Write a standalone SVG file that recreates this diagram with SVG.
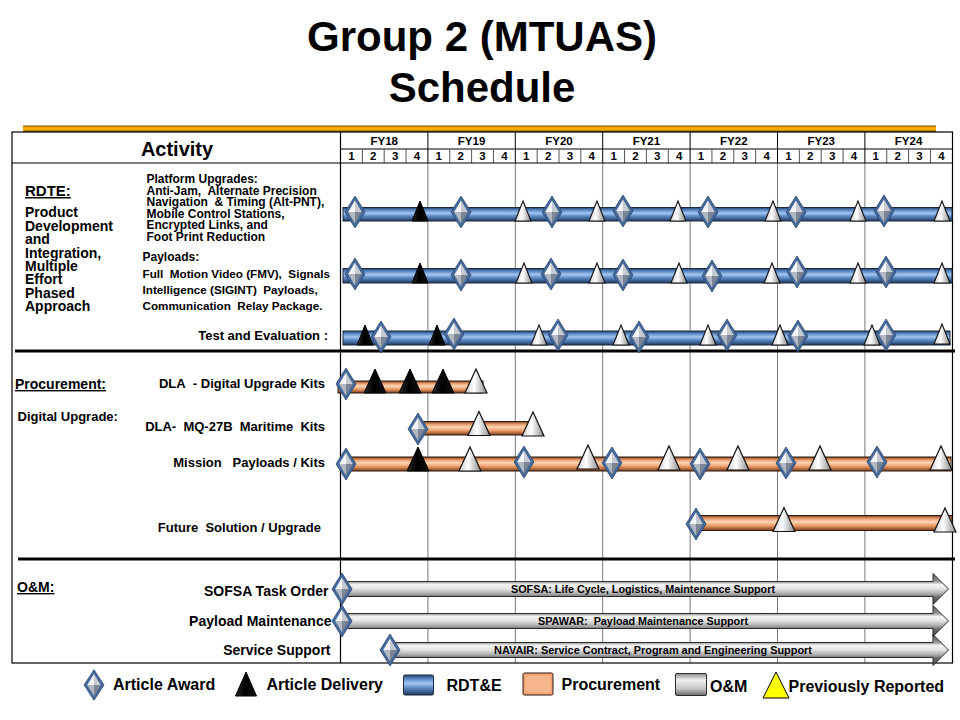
<svg xmlns="http://www.w3.org/2000/svg" xmlns:xlink="http://www.w3.org/1999/xlink" width="960" height="720" viewBox="0 0 960 720">
  <style>
    text { font-family: "Liberation Sans", Arial, sans-serif; font-weight: bold; fill: #000; }
    .title { font-size: 42px; text-anchor: middle; }
    .hdr { font-size: 11.5px; text-anchor: middle; }
    .lbl { font-size: 13px; text-anchor: end; }
    .om { font-size: 14px; text-anchor: end; }
    .sec { text-decoration: underline; }
    .body { font-size: 12px; }
    .arrowtxt { font-size: 10.8px; text-anchor: middle; }
    .leg { font-size: 16px; }
    .grid { stroke: #7a7a7a; stroke-width: 1; }
    .frame { stroke: #000; stroke-width: 1.2; fill: none; }
    .sep { stroke: #000; stroke-width: 3; }
    .rdte { fill: url(#gBlue); stroke: #1c2a3c; stroke-width: 1; }
    .proc { fill: url(#gOrange); stroke: #2a1a10; stroke-width: 1; }
    .oam { fill: url(#gGray); stroke: #2b2b2b; stroke-width: 1; }
  </style>
  <defs>
    <linearGradient id="gGold" x1="0" y1="0" x2="0" y2="1">
      <stop offset="0" stop-color="#7a4d00"/>
      <stop offset="0.3" stop-color="#f3a30c"/>
      <stop offset="0.6" stop-color="#ffb400"/>
      <stop offset="1" stop-color="#6e4500"/>
    </linearGradient>
    <linearGradient id="gBlue" x1="0" y1="0" x2="0" y2="1">
      <stop offset="0" stop-color="#23416a"/>
      <stop offset="0.2" stop-color="#5d8bc8"/>
      <stop offset="0.42" stop-color="#a4c6f0"/>
      <stop offset="0.65" stop-color="#5a88c4"/>
      <stop offset="1" stop-color="#1f3a60"/>
    </linearGradient>
    <linearGradient id="gOrange" x1="0" y1="0" x2="0" y2="1">
      <stop offset="0" stop-color="#7e4220"/>
      <stop offset="0.22" stop-color="#eda070"/>
      <stop offset="0.42" stop-color="#fcd6b8"/>
      <stop offset="0.68" stop-color="#ec9a64"/>
      <stop offset="1" stop-color="#7a3d1c"/>
    </linearGradient>
    <linearGradient id="gGray" x1="0" y1="0" x2="0" y2="1">
      <stop offset="0" stop-color="#505050"/>
      <stop offset="0.26" stop-color="#9a9a9a"/>
      <stop offset="0.36" stop-color="#f6f6f6"/>
      <stop offset="0.5" stop-color="#e2e2e2"/>
      <stop offset="0.66" stop-color="#a8a8a8"/>
      <stop offset="0.76" stop-color="#6c6c6c"/>
      <stop offset="1" stop-color="#404040"/>
    </linearGradient>
    <linearGradient id="gGrayBox" x1="0" y1="0" x2="0" y2="1">
      <stop offset="0" stop-color="#8a8a8a"/>
      <stop offset="0.3" stop-color="#f2f2f2"/>
      <stop offset="0.7" stop-color="#c4c4c4"/>
      <stop offset="1" stop-color="#6a6a6a"/>
    </linearGradient>
    <linearGradient id="gTriW" x1="0" y1="0" x2="1" y2="0">
      <stop offset="0" stop-color="#cfcfcf"/>
      <stop offset="0.42" stop-color="#ffffff"/>
      <stop offset="1" stop-color="#8c8c8c"/>
    </linearGradient>
    <linearGradient id="gTriB" x1="0" y1="0" x2="1" y2="0">
      <stop offset="0" stop-color="#2a2a2a"/>
      <stop offset="0.45" stop-color="#000"/>
      <stop offset="1" stop-color="#111"/>
    </linearGradient>

    <!-- milestone: article award (diamond, centred on origin) -->
    <g id="dia">
      <polygon points="0,-16 10,0 0,16 -10,0" fill="#46699a" stroke="#2b4870" stroke-width="0.8"/>
      <polygon points="0,-11.5 0,0 -6.8,0" fill="#f4f5f7"/>
      <polygon points="0,-11.5 6.8,0 0,0" fill="#c6cbd2"/>
      <polygon points="-6.8,0 0,0 0,11.5" fill="#b3b9c2"/>
      <polygon points="0,0 6.8,0 0,11.5" fill="#7b8593"/>
    </g>
    <!-- delivery triangles, base on origin -->
    <polygon id="twS" points="0,-20 8,0 -8,0" fill="url(#gTriW)" stroke="#111" stroke-width="1.1"/>
    <polygon id="tbS" points="0,-20 8,0 -8,0" fill="url(#gTriB)" stroke="#000" stroke-width="1"/>
    <polygon id="twL" points="0,-24 11,0 -11,0" fill="url(#gTriW)" stroke="#111" stroke-width="1.2"/>
    <polygon id="tbL" points="0,-24 11,0 -11,0" fill="url(#gTriB)" stroke="#000" stroke-width="1"/>
  </defs>

  <rect width="960" height="720" fill="#fff"/>

  <!-- title -->
  <g id="title">
    <text class="title" x="482" y="51">Group 2 (MTUAS)</text>
    <text class="title" x="482" y="102">Schedule</text>
  </g>

  <!-- gold rule above the table -->
  <rect x="23" y="125.5" width="913" height="6.5" fill="url(#gGold)"/>

  <!-- table frame and grid -->
  <g id="grid">
    <line class="grid" x1="427.9" y1="163" x2="427.9" y2="663"/>
    <line class="grid" x1="515.3" y1="163" x2="515.3" y2="663"/>
    <line class="grid" x1="602.7" y1="163" x2="602.7" y2="663"/>
    <line class="grid" x1="690.1" y1="163" x2="690.1" y2="663"/>
    <line class="grid" x1="777.5" y1="163" x2="777.5" y2="663"/>
    <line class="grid" x1="864.9" y1="163" x2="864.9" y2="663"/>
    <g stroke="#000" stroke-width="1">
      <line x1="427.9" y1="132" x2="427.9" y2="163"/>
      <line x1="515.3" y1="132" x2="515.3" y2="163"/>
      <line x1="602.7" y1="132" x2="602.7" y2="163"/>
      <line x1="690.1" y1="132" x2="690.1" y2="163"/>
      <line x1="777.5" y1="132" x2="777.5" y2="163"/>
      <line x1="864.9" y1="132" x2="864.9" y2="163"/>
      <line x1="340.5" y1="149" x2="952.5" y2="149"/>
    </g>
    <g stroke="#555" stroke-width="1">
      <line x1="362.35" y1="149" x2="362.35" y2="163"/><line x1="384.2" y1="149" x2="384.2" y2="163"/><line x1="406.05" y1="149" x2="406.05" y2="163"/>
      <line x1="449.75" y1="149" x2="449.75" y2="163"/><line x1="471.6" y1="149" x2="471.6" y2="163"/><line x1="493.45" y1="149" x2="493.45" y2="163"/>
      <line x1="537.15" y1="149" x2="537.15" y2="163"/><line x1="559" y1="149" x2="559" y2="163"/><line x1="580.85" y1="149" x2="580.85" y2="163"/>
      <line x1="624.55" y1="149" x2="624.55" y2="163"/><line x1="646.4" y1="149" x2="646.4" y2="163"/><line x1="668.25" y1="149" x2="668.25" y2="163"/>
      <line x1="711.95" y1="149" x2="711.95" y2="163"/><line x1="733.8" y1="149" x2="733.8" y2="163"/><line x1="755.65" y1="149" x2="755.65" y2="163"/>
      <line x1="799.35" y1="149" x2="799.35" y2="163"/><line x1="821.2" y1="149" x2="821.2" y2="163"/><line x1="843.05" y1="149" x2="843.05" y2="163"/>
      <line x1="886.75" y1="149" x2="886.75" y2="163"/><line x1="908.6" y1="149" x2="908.6" y2="163"/><line x1="930.45" y1="149" x2="930.45" y2="163"/>
    </g>
    <rect class="frame" x="12" y="132" width="940.5" height="531"/>
    <line stroke="#000" stroke-width="1.2" x1="12" y1="163" x2="952.5" y2="163"/>
    <line stroke="#000" stroke-width="1.2" x1="340.5" y1="132" x2="340.5" y2="663"/>
    <line class="sep" x1="15" y1="351" x2="955" y2="351"/>
    <line class="sep" x1="18" y1="559" x2="955" y2="559"/>
  </g>

  <!-- header labels -->
  <g id="header">
    <text x="177" y="156" style="font-size:20px;text-anchor:middle">Activity</text>
    <text class="hdr" x="384.2" y="145">FY18</text>
    <text class="hdr" x="471.6" y="145">FY19</text>
    <text class="hdr" x="559" y="145">FY20</text>
    <text class="hdr" x="646.4" y="145">FY21</text>
    <text class="hdr" x="733.8" y="145">FY22</text>
    <text class="hdr" x="821.2" y="145">FY23</text>
    <text class="hdr" x="908.6" y="145">FY24</text>
    <g class="quarters">
      <text class="hdr" x="351.4" y="159.5">1</text><text class="hdr" x="373.3" y="159.5">2</text><text class="hdr" x="395.1" y="159.5">3</text><text class="hdr" x="417" y="159.5">4</text>
      <text class="hdr" x="438.8" y="159.5">1</text><text class="hdr" x="460.7" y="159.5">2</text><text class="hdr" x="482.5" y="159.5">3</text><text class="hdr" x="504.4" y="159.5">4</text>
      <text class="hdr" x="526.2" y="159.5">1</text><text class="hdr" x="548.1" y="159.5">2</text><text class="hdr" x="569.9" y="159.5">3</text><text class="hdr" x="591.8" y="159.5">4</text>
      <text class="hdr" x="613.6" y="159.5">1</text><text class="hdr" x="635.5" y="159.5">2</text><text class="hdr" x="657.3" y="159.5">3</text><text class="hdr" x="679.2" y="159.5">4</text>
      <text class="hdr" x="701" y="159.5">1</text><text class="hdr" x="722.9" y="159.5">2</text><text class="hdr" x="744.7" y="159.5">3</text><text class="hdr" x="766.6" y="159.5">4</text>
      <text class="hdr" x="788.4" y="159.5">1</text><text class="hdr" x="810.3" y="159.5">2</text><text class="hdr" x="832.1" y="159.5">3</text><text class="hdr" x="854" y="159.5">4</text>
      <text class="hdr" x="875.8" y="159.5">1</text><text class="hdr" x="897.7" y="159.5">2</text><text class="hdr" x="919.5" y="159.5">3</text><text class="hdr" x="941.4" y="159.5">4</text>
    </g>
  </g>

  <!-- RDT&E section -->
  <g id="rdte-labels">
    <text class="sec" x="25" y="196" style="font-size:15px">RDTE:</text>
    <text x="25" y="217" style="font-size:14px">Product</text>
    <text x="25" y="230.5" style="font-size:14px">Development</text>
    <text x="25" y="244" style="font-size:14px">and</text>
    <text x="25" y="257.5" style="font-size:14px">Integration,</text>
    <text x="25" y="271" style="font-size:14px">Multiple</text>
    <text x="25" y="284" style="font-size:14px">Effort</text>
    <text x="25" y="297.5" style="font-size:14px">Phased</text>
    <text x="25" y="311" style="font-size:14px">Approach</text>
  </g>
  <g id="platform-upgrades">
    <text class="body" x="146.5" y="183">Platform Upgrades:</text>
    <text class="body" x="146.5" y="194.5">Anti-Jam,&#160; Alternate Precision</text>
    <text class="body" x="146.5" y="206">Navigation&#160; &amp; Timing (Alt-PNT),</text>
    <text class="body" x="146.5" y="217.5">Mobile Control Stations,</text>
    <text class="body" x="146.5" y="229">Encrypted Links, and</text>
    <text class="body" x="146.5" y="240.5">Foot Print Reduction</text>
    <rect class="rdte" x="343" y="207.5" width="609" height="13.5"/>
    <use href="#tbS" x="420" y="221"/>
    <use href="#twS" x="523" y="221"/>
    <use href="#twS" x="597" y="221"/>
    <use href="#twS" x="678" y="221"/>
    <use href="#twS" x="773" y="221"/>
    <use href="#twS" x="858" y="221"/>
    <use href="#twS" x="942" y="221"/>
    <use href="#dia" x="355" y="212"/>
    <use href="#dia" x="461" y="212"/>
    <use href="#dia" x="552" y="212"/>
    <use href="#dia" x="623" y="211"/>
    <use href="#dia" x="708" y="212"/>
    <use href="#dia" x="796" y="212"/>
    <use href="#dia" x="884" y="211"/>
  </g>
  <g id="payloads">
    <text class="body" x="142.5" y="261">Payloads:</text>
    <text class="body" x="142.5" y="277.5" style="font-size:11.7px">Full&#160; Motion Video (FMV),&#160; Signals</text>
    <text class="body" x="142.5" y="293.5" style="font-size:11.7px">Intelligence (SIGINT)&#160; Payloads,</text>
    <text class="body" x="142.5" y="310" style="font-size:11.7px">Communication&#160; Relay Package.</text>
    <rect class="rdte" x="343" y="268.5" width="609" height="14.5"/>
    <use href="#tbS" x="420" y="283"/>
    <use href="#twS" x="524" y="283"/>
    <use href="#twS" x="597" y="283"/>
    <use href="#twS" x="679" y="283"/>
    <use href="#twS" x="772" y="283"/>
    <use href="#twS" x="858" y="283"/>
    <use href="#twS" x="942" y="283"/>
    <use href="#dia" x="355" y="274"/>
    <use href="#dia" x="461" y="275"/>
    <use href="#dia" x="551" y="274"/>
    <use href="#dia" x="623" y="275"/>
    <use href="#dia" x="712" y="276"/>
    <use href="#dia" x="797" y="272"/>
    <use href="#dia" x="886" y="272"/>
  </g>
  <g id="test-evaluation">
    <text class="lbl" x="328" y="340">Test and Evaluation :</text>
    <rect class="rdte" x="343" y="331" width="607" height="14"/>
    <use href="#tbS" x="365" y="345"/>
    <use href="#tbS" x="437" y="345"/>
    <use href="#twS" x="539" y="345"/>
    <use href="#twS" x="621" y="345"/>
    <use href="#twS" x="708" y="345"/>
    <use href="#twS" x="780" y="345"/>
    <use href="#twS" x="872" y="345"/>
    <use href="#twS" x="942" y="344"/>
    <use href="#dia" x="381" y="337"/>
    <use href="#dia" x="454" y="334"/>
    <use href="#dia" x="558" y="335"/>
    <use href="#dia" x="639" y="337"/>
    <use href="#dia" x="727" y="335"/>
    <use href="#dia" x="798" y="336"/>
    <use href="#dia" x="886" y="335"/>
  </g>

  <!-- Procurement section -->
  <g id="procurement-labels">
    <text class="sec" x="15" y="389" style="font-size:14px">Procurement:</text>
    <text x="17.5" y="421" style="font-size:13px">Digital Upgrade:</text>
  </g>
  <g id="dla-digital-kits">
    <text class="lbl" x="325" y="388">DLA&#160; - Digital Upgrade Kits</text>
    <rect class="proc" x="338" y="381" width="145" height="12"/>
    <use href="#tbL" x="375" y="393"/>
    <use href="#tbL" x="410" y="393"/>
    <use href="#tbL" x="443" y="393"/>
    <use href="#twL" x="476" y="393"/>
    <use href="#dia" x="346" y="384"/>
  </g>
  <g id="dla-maritime-kits">
    <text class="lbl" x="325" y="431">DLA-&#160; MQ-27B&#160; Maritime&#160; Kits</text>
    <rect class="proc" x="418" y="421.5" width="115" height="13.5"/>
    <use href="#twL" x="479" y="435.5"/>
    <use href="#twL" x="533" y="436"/>
    <use href="#dia" x="418" y="429"/>
  </g>
  <g id="mission-payloads">
    <text class="lbl" x="325" y="467">Mission&#160;&#160; Payloads / Kits</text>
    <rect class="proc" x="343" y="457" width="608" height="14"/>
    <use href="#tbL" x="418" y="471"/>
    <use href="#twL" x="470" y="471"/>
    <use href="#twL" x="588" y="469"/>
    <use href="#twL" x="669" y="470"/>
    <use href="#twL" x="738" y="470"/>
    <use href="#twL" x="820" y="470"/>
    <use href="#twL" x="941" y="470"/>
    <use href="#dia" x="346" y="464"/>
    <use href="#dia" x="524" y="462"/>
    <use href="#dia" x="612" y="463"/>
    <use href="#dia" x="700" y="464"/>
    <use href="#dia" x="786" y="463"/>
    <use href="#dia" x="877" y="462"/>
  </g>
  <g id="future-solution">
    <text class="lbl" x="321" y="532">Future&#160; Solution / Upgrade</text>
    <rect class="proc" x="697" y="515.5" width="255" height="15"/>
    <use href="#twL" x="784" y="531.5"/>
    <use href="#twL" x="945" y="532"/>
    <use href="#dia" x="696" y="524"/>
  </g>

  <!-- O&M section -->
  <g id="om-labels">
    <text class="sec" x="17" y="592" style="font-size:14px">O&amp;M:</text>
  </g>
  <g id="sofsa">
    <text class="om" x="328.5" y="596">SOFSA Task Order</text>
    <path class="oam" d="M343,581.5 H933 V573.5 L948.5,589 L933,604.5 V596.5 H343 Z"/>
    <text class="arrowtxt" x="643" y="593" textLength="264" lengthAdjust="spacingAndGlyphs">SOFSA: Life Cycle, Logistics, Maintenance Support</text>
    <use href="#dia" x="342" y="589"/>
  </g>
  <g id="payload-maintenance">
    <text class="om" x="331.5" y="625.5">Payload Maintenance</text>
    <path class="oam" d="M343,613.5 H933 V605.5 L948.5,621 L933,636.5 V628.5 H343 Z"/>
    <text class="arrowtxt" x="643" y="625" textLength="210" lengthAdjust="spacingAndGlyphs">SPAWAR:&#160; Payload Maintenance Support</text>
    <use href="#dia" x="342" y="621"/>
  </g>
  <g id="service-support">
    <text class="om" x="330.5" y="655">Service Support</text>
    <path class="oam" d="M390,642.5 H933 V634.5 L948.5,650 L933,665.5 V657.5 H390 Z"/>
    <text class="arrowtxt" x="653" y="654" textLength="318" lengthAdjust="spacingAndGlyphs">NAVAIR: Service Contract, Program and Engineering Support</text>
    <use href="#dia" x="390" y="650"/>
  </g>

  <!-- legend -->
  <g id="legend">
    <use href="#dia" transform="translate(94,685) scale(1.0,0.95)"/>
    <text class="leg" x="113" y="690">Article Award</text>
    <polygon points="246,672 256.5,696 235.5,696" fill="url(#gTriB)" stroke="#000" stroke-width="1"/>
    <text class="leg" x="266.5" y="690">Article Delivery</text>
    <rect class="rdte" x="403.5" y="675" width="30" height="20" rx="1.5"/>
    <text class="leg" x="446.5" y="691">RDT&amp;E</text>
    <rect class="proc" x="523" y="673" width="30" height="22" rx="1.5" style="fill:#f2a273"/>
    <rect x="525.5" y="675.5" width="25" height="17" fill="#f7b68c"/>
    <text class="leg" x="561.5" y="690">Procurement</text>
    <rect x="675.5" y="673.5" width="31" height="22" rx="1.5" fill="url(#gGrayBox)" stroke="#2b2b2b" stroke-width="1"/>
    <text class="leg" x="710" y="692">O&amp;M</text>
    <polygon points="776,672 789,698 763,698" fill="#ffff00" stroke="#000" stroke-width="1"/>
    <text class="leg" x="788.5" y="692">Previously Reported</text>
  </g>
</svg>
